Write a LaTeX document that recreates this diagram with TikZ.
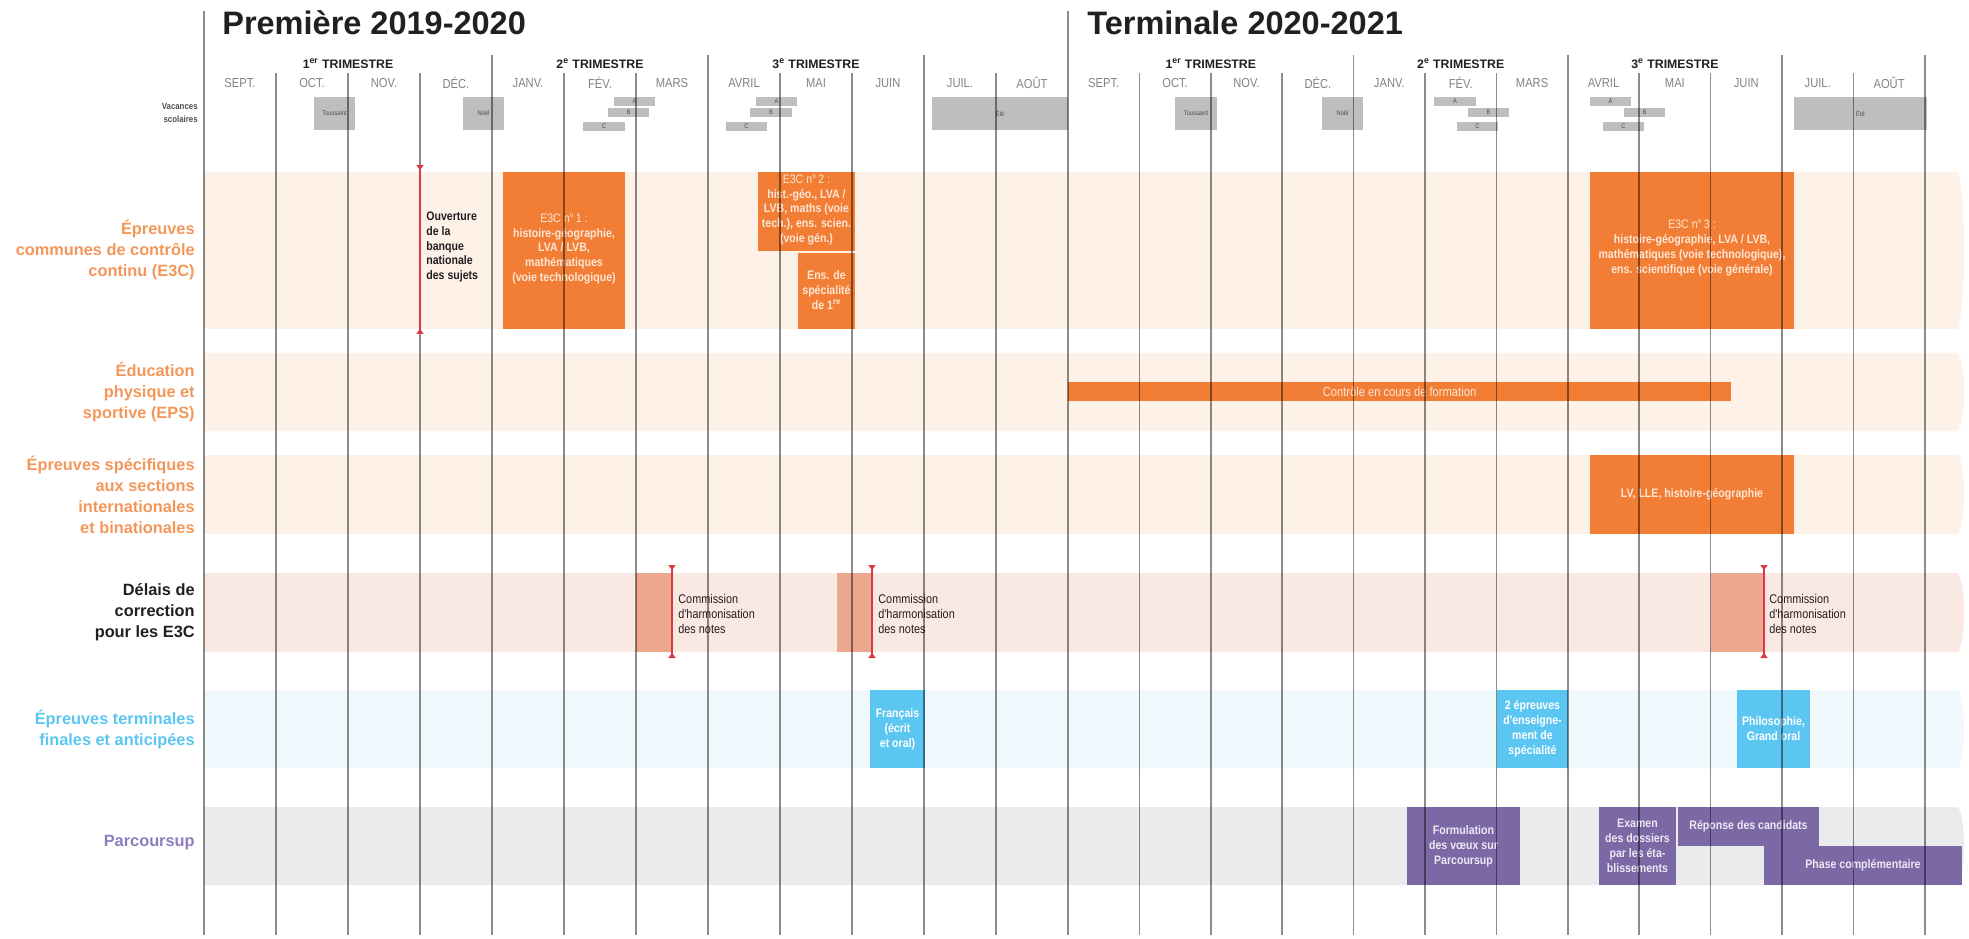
\documentclass[tikz,border=0pt]{standalone}
\usepackage{fontspec}
\setmainfont{Liberation Sans}
\newfontfamily\cond{Liberation Sans}[FakeStretch=0.86]
\usepackage{tikz}
\usetikzlibrary{arrows.meta}
\usetikzlibrary{positioning}

\definecolor{orgband}{HTML}{FDF1E8}
\definecolor{pinkband}{HTML}{FAE9E2}
\definecolor{blueband}{HTML}{EFF8FD}
\definecolor{greyband}{HTML}{EBEBED}
\definecolor{orgbox}{HTML}{F27E35}
\definecolor{orglabel}{HTML}{F39659}
\definecolor{orgtext}{HTML}{FDE6D5}
\definecolor{salmon}{HTML}{EBA88F}
\definecolor{redmark}{HTML}{D93A45}
\definecolor{bluebox}{HTML}{5BC6F1}
\definecolor{purplebox}{HTML}{7B68A5}
\definecolor{purplelabel}{HTML}{8E7CC0}
\definecolor{purpletext}{HTML}{EDE8F5}
\definecolor{vacgrey}{HTML}{BDBEC0}
\definecolor{darktext}{HTML}{231F20}
\definecolor{monthgrey}{HTML}{808285}

\newcommand{\fs}[2]{\fontsize{#1}{#2}\selectfont}

\begin{document}
\begin{tikzpicture}[x=0.02cm, y=-0.02cm,
  title/.style={anchor=base west, inner sep=0, text=darktext, font=\bfseries\fs{18.5}{20}},
  trim/.style={inner sep=0, text=darktext, font=\bfseries\fs{7}{8}},
  month/.style={inner sep=0, text=monthgrey, font=\cond\fs{7.4}{8}},
  vac/.style={inner sep=0, text=darktext!80, font=\cond\fs{3.8}{4}},
  rowlabel/.style={anchor=east, align=right, inner sep=0, font=\bfseries\fs{9.3}{12}},
  otext/.style={align=center, inner sep=0, text=orgtext, font=\cond\bfseries\fs{7}{8.5}},
  btext/.style={align=center, inner sep=0, text=white, font=\cond\bfseries\fs{7}{8.5}},
  ptext/.style={align=center, inner sep=0, text=purpletext, font=\cond\bfseries\fs{7}{8.5}},
  note/.style={anchor=west, align=left, inner sep=0, text=darktext, font=\cond\fs{7.2}{8.5}},
  grid/.style={draw=black, opacity=0.45, line width=0.9pt},
  marker/.style={draw=redmark, line width=1.1pt, {Triangle[reversed,length=3pt,width=4pt]}-{Triangle[reversed,length=3pt,width=4pt]}}
]
\useasboundingbox (0,0) rectangle (1969,939);

% titres et mois
\node[title] (titleA) at (222,35) {Première 2019-2020};
\node[title] (titleB) at (1087,35) {Terminale 2020-2021};
\node[trim] (tA1) at (348,64) {1\textsuperscript{er} TRIMESTRE};
\node[trim] (tA2) at (600,64) {2\textsuperscript{e} TRIMESTRE};
\node[trim] (tA3) at (816,64) {3\textsuperscript{e} TRIMESTRE};
\node[trim] (tB1) at (1210.8,64) {1\textsuperscript{er} TRIMESTRE};
\node[trim] (tB2) at (1460.7,64) {2\textsuperscript{e} TRIMESTRE};
\node[trim] (tB3) at (1674.9,64) {3\textsuperscript{e} TRIMESTRE};
\foreach \m [count=\i from 0] in {SEPT.,OCT.,NOV.,DÉC.,JANV.,FÉV.,MARS,AVRIL,MAI,JUIN,JUIL.,AOÛT} {
	\node[month] (mA\i) at ({240+72*\i},83) {\m};
	\node[month] (mB\i) at ({1103.7+71.4*\i},83) {\m};
}

% vacances
\node[anchor=east, align=right, inner sep=0, text=darktext!80, font=\cond\bfseries\fs{5.2}{7.5}] (vacances) at (198,113) {Vacances\\scolaires};
\foreach \xa/\ya/\xb/\yb/\lab [count=\k] in {
	314/97/355/130/Toussaint, 463/97/504/130/Noël,
	614/97/655/106/A, 608/108/649/117/B, 583/122/625/131/C,
	756/97/797/106/A, 750/108/792/117/B, 726/122/767/131/C,
	932/97/1068/130/Été,
	1175/97/1217/130/Toussaint, 1322/97/1363/130/Noël,
	1434/97/1476/106/A, 1468/108/1509/117/B, 1457/122/1498/131/C,
	1590/97/1631/106/A, 1624/108/1665/117/B, 1603/122/1644/131/C,
	1794/97/1927/130/Été} {
	\fill[vacgrey] (\xa,\ya) rectangle (\xb,\yb);
	\node[vac] (vac\k) at ({(\xa+\xb)/2},{(\ya+\yb)/2}) {\lab};
}

% bandes
\foreach \yt/\yb/\col in {172/329/orgband, 353/431/orgband, 455/534/orgband,
	573/652/pinkband, 690/768/blueband, 807/885/greyband}
	\fill[\col] (204,\yt) -- (1958,\yt) .. controls (1966,{\yt+0.15*(\yb-\yt)}) and (1966,{\yb-0.15*(\yb-\yt)}) .. (1958,\yb) -- (204,\yb) -- cycle;

\node[rowlabel, text=orglabel] (rowE3C) at (195,250) {Épreuves\\communes de contrôle\\continu (E3C)};
\node[rowlabel, text=orglabel] (rowEPS) at (195,392) {Éducation\\physique et\\sportive (EPS)};
\node[rowlabel, text=orglabel] (rowSpe) at (195,495) {Épreuves spécifiques\\aux sections\\internationales\\et binationales};
\node[rowlabel, text=darktext] (rowDel) at (195,612) {Délais de\\correction\\pour les E3C};
\node[rowlabel, text=bluebox] (rowTerm) at (195,729) {Épreuves terminales\\finales et anticipées};
\node[rowlabel, text=purplelabel] (rowPsup) at (195,843) {Parcoursup};

% E3C
\fill[orgbox] (503,172) rectangle (625,329);
\node[otext] (e3cA) at (564,249) {{\mdseries E3C n°\,1 :}\\histoire-géographie,\\LVA / LVB,\\mathématiques\\(voie technologique)};
\fill[orgbox] (758,172) rectangle (855,251);
\node[otext] (e3cB) at (806.5,210) {{\mdseries E3C n°\,2 :}\\hist.-géo., LVA /\\LVB, maths (voie\\tech.), ens. scien.\\(voie gén.)};
\fill[orgbox] (798,253) rectangle (855,329);
\node[otext] (e3cSpe) at (826.5,290) {Ens. de\\spécialité\\de 1\textsuperscript{re}};
\fill[orgbox] (1590,172) rectangle (1794,329);
\node[otext] (e3cC) at (1692,248) {{\mdseries E3C n°\,3 :}\\histoire-géographie, LVA / LVB,\\mathématiques (voie technologique),\\ens. scientifique (voie générale)};
\node[note, font=\cond\bfseries\fs{7}{8.5}] (ouv) at (426,247) {Ouverture\\de la\\banque\\nationale\\des sujets};

% EPS et sections
\fill[orgbox] (1068,382) rectangle (1731,401);
\node[otext, font=\cond\fs{7.4}{8}] (eps) at (1399.5,391.5) {Contrôle en cours de formation};
\fill[orgbox] (1590,455) rectangle (1794,534);
\node[otext] (spe) at (1692,494.5) {LV, LLE, histoire-géographie};

% delais de correction
\fill[salmon] (636,573) rectangle (672,652);
\fill[salmon] (837,573) rectangle (872,652);
\fill[salmon] (1711,573) rectangle (1764,652);
\node[note] (comA) at (678,614) {Commission\\d'harmonisation\\des notes};
\node[note] (comB) at (878,614) {Commission\\d'harmonisation\\des notes};
\node[note] (comC) at (1769,614) {Commission\\d'harmonisation\\des notes};

% epreuves terminales
\fill[bluebox] (870,690) rectangle (925,768);
\node[btext] (fr) at (897.5,729) {Français\\(écrit\\et oral)};
\fill[bluebox] (1497,690) rectangle (1568,768);
\node[btext] (speB) at (1532.5,729) {2 épreuves\\d'enseigne-\\ment de\\spécialité};
\fill[bluebox] (1737,690) rectangle (1810,768);
\node[btext] (philo) at (1773.5,729) {Philosophie,\\Grand oral};

% parcoursup
\fill[purplebox] (1407,807) rectangle (1520,885);
\node[ptext] (voeux) at (1463.5,846) {Formulation\\des vœux sur\\Parcoursup};
\fill[purplebox] (1599,807) rectangle (1676,885);
\node[ptext] (examen) at (1637.5,846) {Examen\\des dossiers\\par les éta-\\blissements};
\fill[purplebox] (1678,807) rectangle (1819,846);
\node[ptext] (reponse) at (1748.5,826) {Réponse des candidats};
\fill[purplebox] (1764,846) rectangle (1962,885);
\node[ptext] (phase) at (1863,865) {Phase complémentaire};

% traits des mois
\foreach \i in {1,2,3,5,6,8,9,11} {
	\draw[grid] ({204+72*\i},73) -- ({204+72*\i},935);
	\draw[grid] ({1068+71.4*\i},73) -- ({1068+71.4*\i},935);
}
\foreach \i in {4,7,10} {
	\draw[grid] ({204+72*\i},55) -- ({204+72*\i},935);
	\draw[grid] ({1068+71.4*\i},55) -- ({1068+71.4*\i},935);
}
\draw[grid] (1925,55) -- (1925,935);
\draw[grid] (204,11) -- (204,935);
\draw[grid] (1068,11) -- (1068,935);

% reperes rouges
\coordinate (ouvT) at (420,165);
\coordinate (ouvB) at (420,334);
\coordinate (comAT) at (672,565);
\coordinate (comAB) at (672,658);
\coordinate (comBT) at (872,565);
\coordinate (comBB) at (872,658);
\coordinate (comCT) at (1764,565);
\coordinate (comCB) at (1764,658);
\draw[marker] (ouvT) -- (ouvB);
\draw[marker] (comAT) -- (comAB);
\draw[marker] (comBT) -- (comBB);
\draw[marker] (comCT) -- (comCB);
\end{tikzpicture}
\end{document}
